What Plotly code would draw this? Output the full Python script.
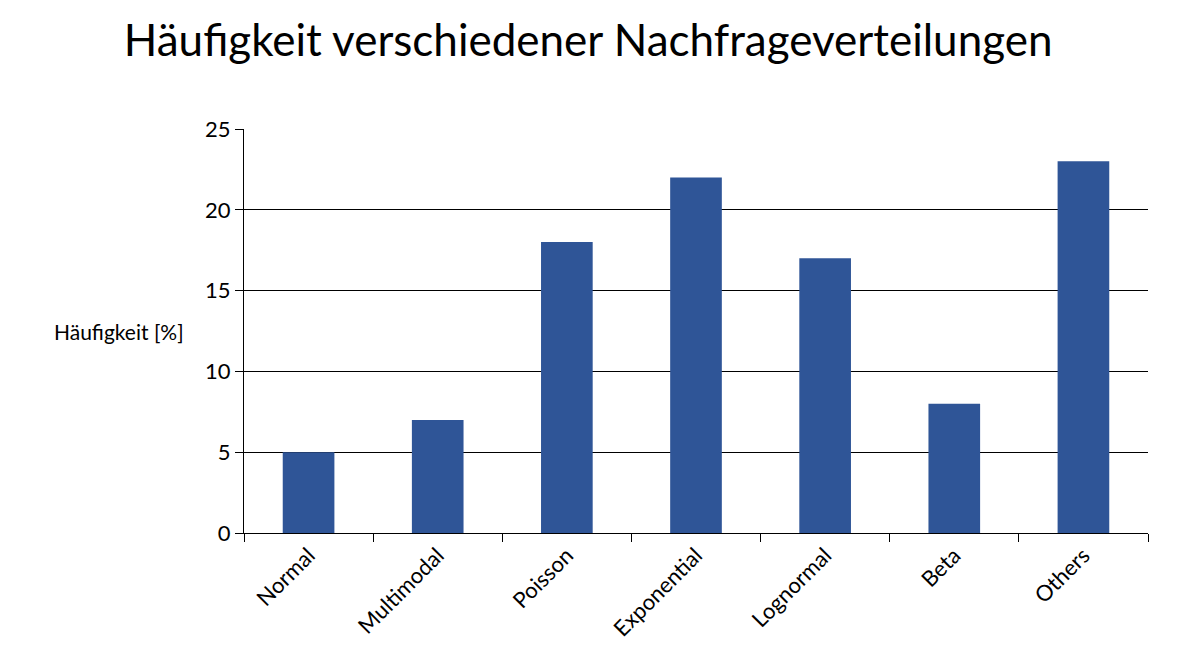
import plotly.graph_objects as go

categories = ["Normal", "Multimodal", "Poisson", "Exponential", "Lognormal", "Beta", "Others"]
values = [5, 7, 18, 22, 17, 8, 23]
title = "Häufigkeit verschiedener Nachfrageverteilungen"
ytitle = "Häufigkeit [%]"

fig = go.Figure(go.Bar(x=categories, y=values, marker_color="#2F5597",
                       marker_line_width=0, width=0.4))
fig.update_layout(
    width=1184, height=669,
    margin=dict(l=236, r=44, t=121, b=144),
    paper_bgcolor="white", plot_bgcolor="white",
    font=dict(family="Lato, Carlito, sans-serif", size=22, color="black"),
    title=dict(text=title, x=0.49, xanchor="center", y=0.952, yanchor="middle",
               font=dict(size=44)),
    showlegend=False,
)
fig.update_yaxes(range=[0, 25], dtick=5, showgrid=True, gridcolor="black", gridwidth=1,
                 showline=True, linecolor="black", ticks="outside", ticklen=8,
                 tickcolor="black", zeroline=False, automargin=False)
fig.update_xaxes(showline=True, linecolor="black", ticks="outside", ticklen=8,
                 tickcolor="black", tickson="boundaries", tickangle=-45, automargin=False)
fig.add_annotation(text=ytitle, xref="paper", yref="paper", x=-0.064, y=0.5,
                   xanchor="right", yanchor="middle", showarrow=False,
                   font=dict(size=21))
fig.write_html("out.html")
